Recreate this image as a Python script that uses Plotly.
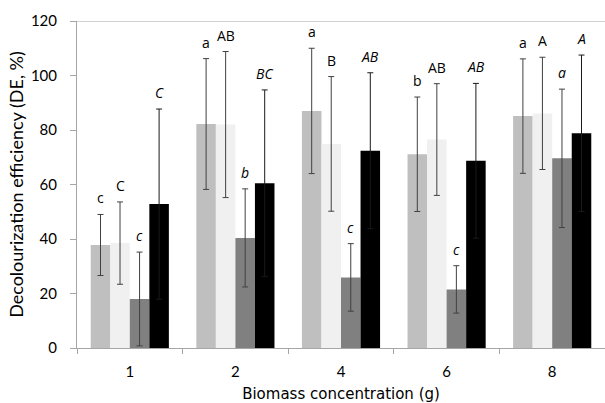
import plotly.graph_objects as go

categories = ["1", "2", "4", "6", "8"]

s1_vals = [37.8, 82.2, 87.0, 71.1, 85.1]
s1_err = [11.2, 24.0, 23.0, 21.0, 21.0]
s1_lbl = ["c", "a", "a", "b", "a"]

s2_vals = [38.5, 82.0, 74.9, 76.5, 86.1]
s2_err = [15.1, 26.8, 24.7, 20.5, 20.6]
s2_lbl = ["C", "AB", "B", "AB", "A"]

s3_vals = [18.0, 40.4, 25.9, 21.5, 69.6]
s3_err = [17.2, 18.0, 12.4, 8.7, 25.4]
s3_lbl = ["c", "b", "c", "c", "a"]

s4_vals = [52.8, 60.5, 72.4, 68.7, 78.8]
s4_err = [34.9, 34.2, 28.6, 28.4, 28.7]
s4_lbl = ["C", "BC", "AB", "AB", "A"]

series = [
    (s1_vals, s1_err, s1_lbl, "#bfbfbf", "#404040", False),
    (s2_vals, s2_err, s2_lbl, "#f0f0f0", "#404040", False),
    (s3_vals, s3_err, s3_lbl, "#808080", "#404040", True),
    (s4_vals, s4_err, s4_lbl, "#000000", "#1a1a1a", True),
]

FONT = "Lato, Open Sans, sans-serif"
WIDE = "DejaVu Sans, sans-serif"
fig = go.Figure()
annotations = []
n = len(series)
for i, (vals, errs, lbls, color, ecolor, italic) in enumerate(series):
    fig.add_trace(go.Bar(
        x=categories, y=vals, marker=dict(color=color, line=dict(width=0)),
        error_y=dict(type="data", array=errs, visible=True, color=ecolor,
                     thickness=1, width=3),
        showlegend=False, offsetgroup=str(i), hoverinfo="skip",
    ))

bargap = 0.26
group_width = 1 - bargap
bw = group_width / n
for i, (vals, errs, lbls, color, ecolor, italic) in enumerate(series):
    for j, cat in enumerate(categories):
        xpos = j - group_width / 2 + bw * (i + 0.5)
        txt = f"<i>{lbls[j]}</i>" if italic else lbls[j]
        annotations.append(dict(
            x=xpos, y=vals[j] + errs[j], xref="x", yref="y",
            text=txt, showarrow=False, yanchor="bottom", yshift=5,
            font=dict(family="Open Sans, sans-serif", size=14, color="#000000"),
        ))

fig.update_layout(
    width=605, height=403,
    margin=dict(l=77, r=0, t=21, b=55),
    barmode="group", bargap=bargap, bargroupgap=0,
    plot_bgcolor="white", paper_bgcolor="white",
    font=dict(family=FONT, size=14, color="#000000"),
    annotations=annotations,
    shapes=[dict(type="line", xref="paper", yref="y", x0=0, x1=1, y0=120, y1=120,
                 line=dict(color="#a6a6a6", width=1))],
    xaxis=dict(
        type="category", showline=True, linecolor="#a6a6a6", linewidth=1,
        ticks="outside", tickson="boundaries", ticklen=5, tickcolor="#a6a6a6",
        showgrid=False, tickfont=dict(size=15, family=FONT), ticklabelstandoff=10,
        title=dict(text="Biomass concentration (g)", font=dict(size=15, family=WIDE), standoff=14),
        range=[-0.5, 4.5], automargin=False,
    ),
    yaxis=dict(
        range=[0, 120], dtick=20, showline=True, linecolor="#a6a6a6", linewidth=1,
        ticks="outside", ticklen=6, tickcolor="#a6a6a6", showgrid=False, zeroline=False,
        tickfont=dict(size=15, family=FONT), ticklabelstandoff=10,
        title=dict(text="Decolourization efficiency (DE, %)", font=dict(size=18, family=FONT), standoff=2),
        automargin=False,
    ),
)

fig.write_html("out.html", config={"displayModeBar": False},
               post_script="document.body.style.margin='0';")
